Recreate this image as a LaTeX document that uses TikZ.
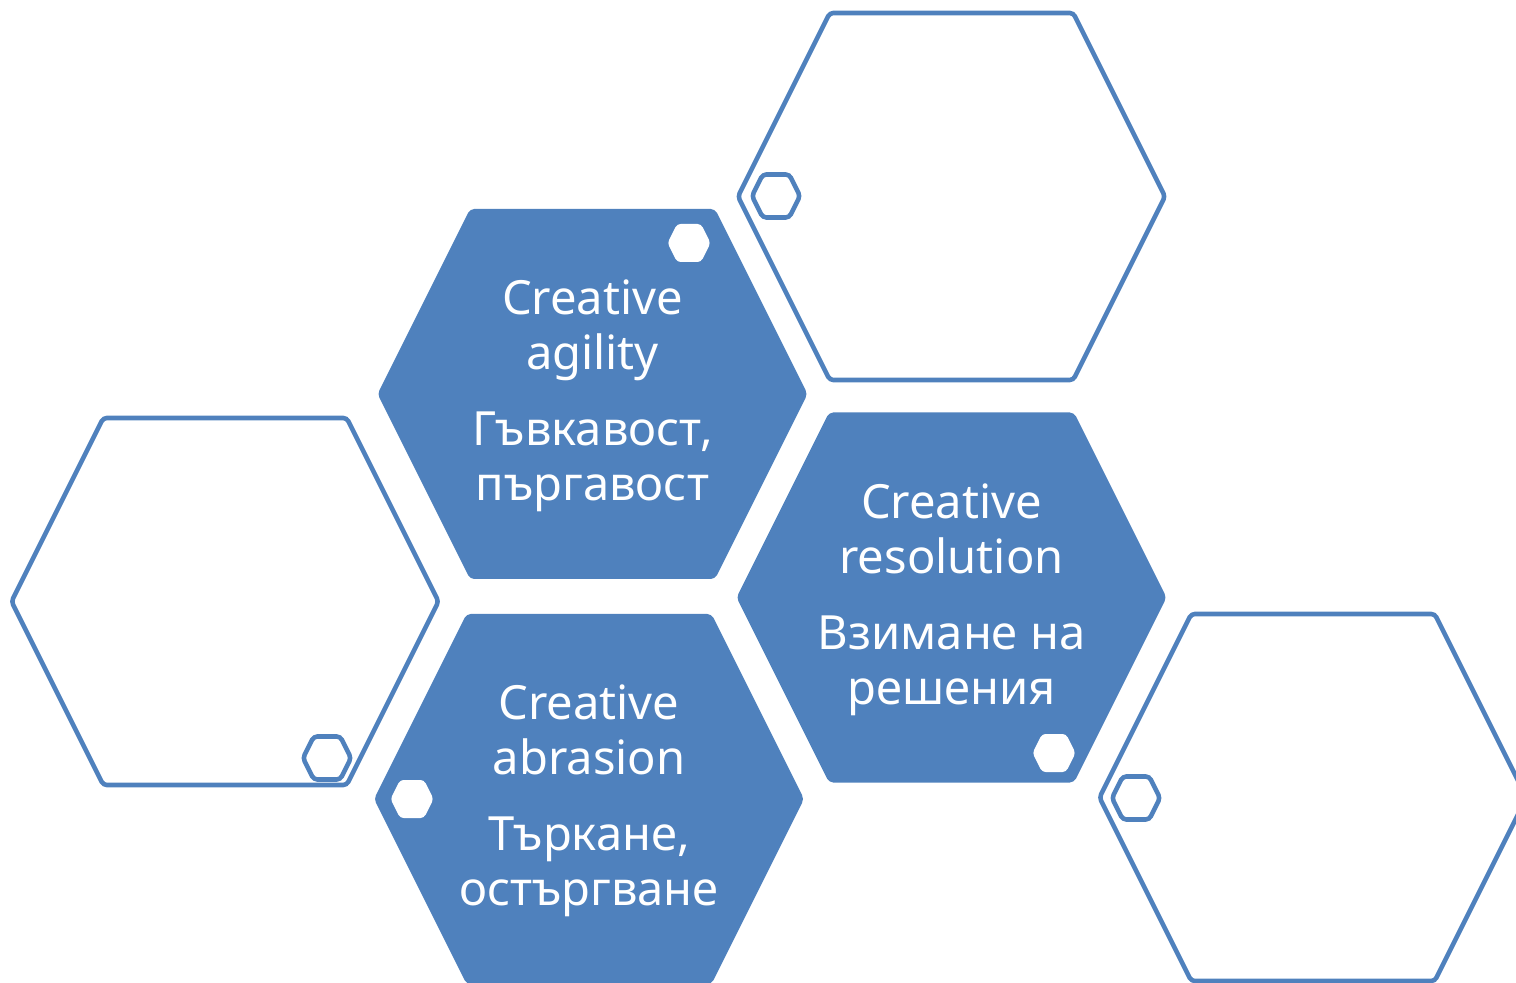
\documentclass[tikz,border=0pt]{standalone}
\usepackage{fontspec}
\setmainfont{Noto Sans}
\usepackage{xcolor}
\definecolor{hexblue}{RGB}{79,129,189}

\newcommand{\hexa}[2]{(-#1,0) -- ({-#1+#2/2},-#2) -- ({#1-#2/2},-#2) -- (#1,0) -- ({#1-#2/2},#2) -- ({-#1+#2/2},#2) -- cycle}

\tikzset{
  hexfill/.style={fill=hexblue,rounded corners=1.2pt},
  hexline/.style={draw=hexblue,line width=1.3pt,rounded corners=1pt},
  dotfill/.style={fill=white,rounded corners=1pt},
  hextext/.style={text=white,align=center,font=\fontsize{13.4}{15.6}\selectfont}
}

\begin{document}
\begin{tikzpicture}[x=0.01cm,y=-0.01cm]
			\useasboundingbox (0,0) rectangle (1516,983);
			% outlined hexagons
			\foreach \cx/\cy in {951.5/196.5, 225/601.5, 1313/797.5}
				\draw[hexline,shift={(\cx,\cy)}] \hexa{213.5}{183.5};
			% filled hexagons
			\foreach \cx/\cy in {592.5/394, 951.5/597.5, 589/799}
				\fill[hexfill,shift={(\cx,\cy)}] \hexa{215}{185};
			% small hexagons
			\foreach \cx/\cy in {776/196, 327/758, 1136/798}
				\draw[hexline,shift={(\cx,\cy)}] \hexa{24}{21.5};
			\foreach \cx/\cy in {689/243, 412/799, 1054/753}
				\fill[dotfill,shift={(\cx,\cy)}] \hexa{21.5}{19};
			% texts
			\node[hextext] (agility) at (592.5,396) {Creative\\agility\\[6pt]Гъвкавост,\\пъргавост};
			\node[hextext] (resolution) at (951.5,600) {Creative\\resolution\\[6pt]Взимане на\\решения};
			\node[hextext] (abrasion) at (589,801) {Creative\\abrasion\\[6pt]Търкане,\\остъргване};
		\end{tikzpicture}
\end{document}
